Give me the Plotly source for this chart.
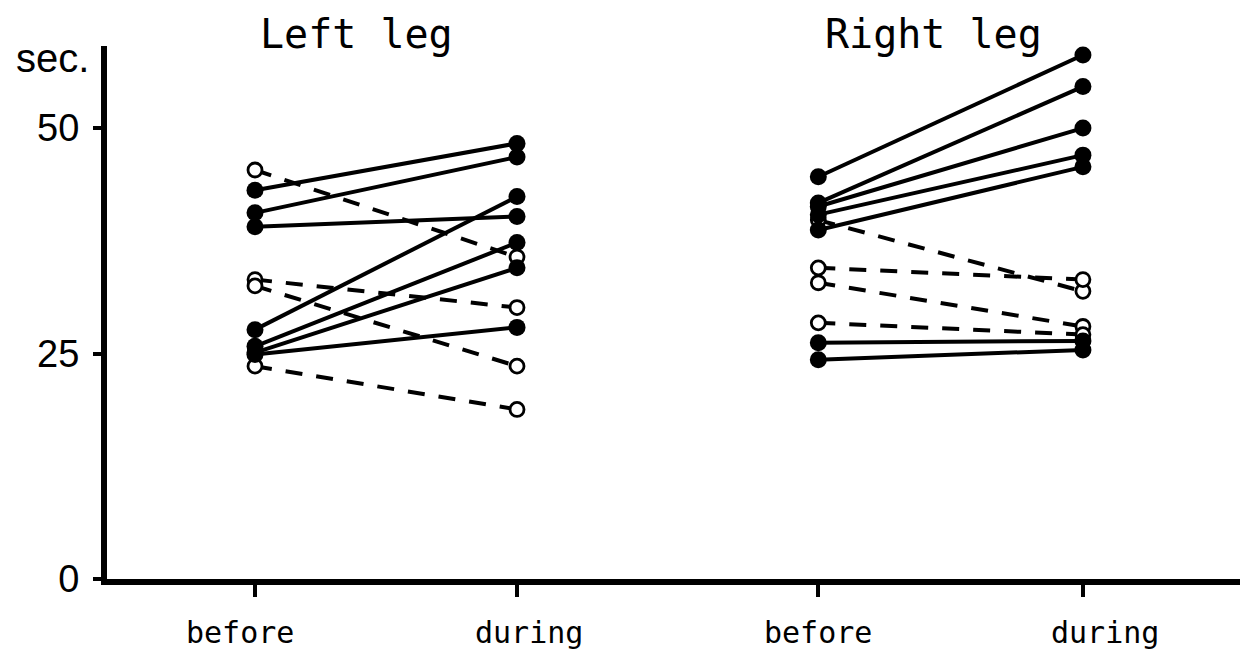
import plotly.graph_objects as go

# ---- data ----
conditions = ["before", "during", "before", "during"]
x_pos = [1.0, 2.0, 3.15, 4.16]          # category positions on the x axis
label_x = [0.943, 2.046, 3.149, 4.244]  # tick label centres
panel_titles = ["Left leg", "Right leg"]
title_x = [1.389, 3.588]

# Left leg: improved (solid, filled) and worsened (dashed, open)
left_solid_before = [43.1, 40.6, 39.05, 27.65, 25.8, 25.1, 24.9]
left_solid_during = [48.3, 46.8, 40.2, 42.4, 37.3, 34.5, 27.9]
left_dash_before = [45.35, 33.2, 32.5, 23.6]
left_dash_during = [35.7, 30.1, 23.6, 18.8]

# Right leg
right_solid_before = [44.6, 41.7, 41.3, 40.4, 38.7, 26.2, 24.3]
right_solid_during = [58.1, 54.6, 50.0, 47.0, 45.7, 26.4, 25.4]
right_dash_before = [39.8, 34.5, 32.85, 28.4]
right_dash_during = [31.9, 33.2, 28.0, 27.1]

y_ticks = [0, 25, 50]

fig = go.Figure()

groups = [
    (x_pos[0], x_pos[1], left_solid_before, left_solid_during, left_dash_before, left_dash_during),
    (x_pos[2], x_pos[3], right_solid_before, right_solid_during, right_dash_before, right_dash_during),
]

LW = 4
# dashed lines
for xb, xd, sb, sd, db, dd in groups:
    for b, d in zip(db, dd):
        fig.add_trace(go.Scatter(x=[xb, xd], y=[b, d], mode="lines",
                                 line=dict(color="black", width=LW, dash="17px,14px"),
                                 hoverinfo="skip"))
# solid lines
for xb, xd, sb, sd, db, dd in groups:
    for b, d in zip(sb, sd):
        fig.add_trace(go.Scatter(x=[xb, xd], y=[b, d], mode="lines",
                                 line=dict(color="black", width=LW),
                                 hoverinfo="skip"))
# open markers
for xb, xd, sb, sd, db, dd in groups:
    fig.add_trace(go.Scatter(x=[xb] * len(db) + [xd] * len(dd), y=db + dd, mode="markers",
                             marker=dict(symbol="circle", size=14, color="white",
                                         line=dict(color="black", width=2.8)),
                             hoverinfo="skip"))
# filled markers
for xb, xd, sb, sd, db, dd in groups:
    fig.add_trace(go.Scatter(x=[xb] * len(sb) + [xd] * len(sd), y=sb + sd, mode="markers",
                             marker=dict(symbol="circle", size=17, color="black",
                                         line=dict(color="black", width=0)),
                             hoverinfo="skip"))

annotations = []
for t, tx in zip(conditions, label_x):
    annotations.append(dict(x=tx, y=-0.1, xref="x", yref="paper", text=t, showarrow=False,
                            font=dict(family="DejaVu Sans Mono", size=30, color="black"),
                            xanchor="center", yanchor="middle"))
for t, tx in zip(panel_titles, title_x):
    annotations.append(dict(x=tx, y=1.0225, xref="x", yref="paper", text=t, showarrow=False,
                            font=dict(family="DejaVu Sans Mono", size=40, color="black"),
                            xanchor="center", yanchor="middle"))
annotations.append(dict(x=-0.014, y=0.977, xref="paper", yref="paper", text="sec.", showarrow=False,
                        font=dict(family="Liberation Sans, Arial", size=40, color="black"),
                        xanchor="right", yanchor="middle"))

fig.update_layout(
    width=1240, height=650,
    margin=dict(l=107, r=0, t=46, b=71),
    paper_bgcolor="white", plot_bgcolor="white",
    showlegend=False,
    annotations=annotations,
    xaxis=dict(range=[0.4351, 4.7595], tickvals=x_pos, ticktext=[""] * 4,
               showgrid=False, zeroline=False, showline=True, linecolor="black", linewidth=6,
               ticks="outside", ticklen=12, tickwidth=4, tickcolor="black"),
    yaxis=dict(range=[0, 59.1], tickvals=y_ticks, ticktext=[str(v) for v in y_ticks],
               showgrid=False, zeroline=False, showline=True, linecolor="black", linewidth=6,
               ticks="outside", ticklen=8, tickwidth=4, tickcolor="black",
               ticklabelstandoff=6,
               tickfont=dict(family="Liberation Sans, Arial", size=38, color="black")),
)

fig.write_html("out.html")
